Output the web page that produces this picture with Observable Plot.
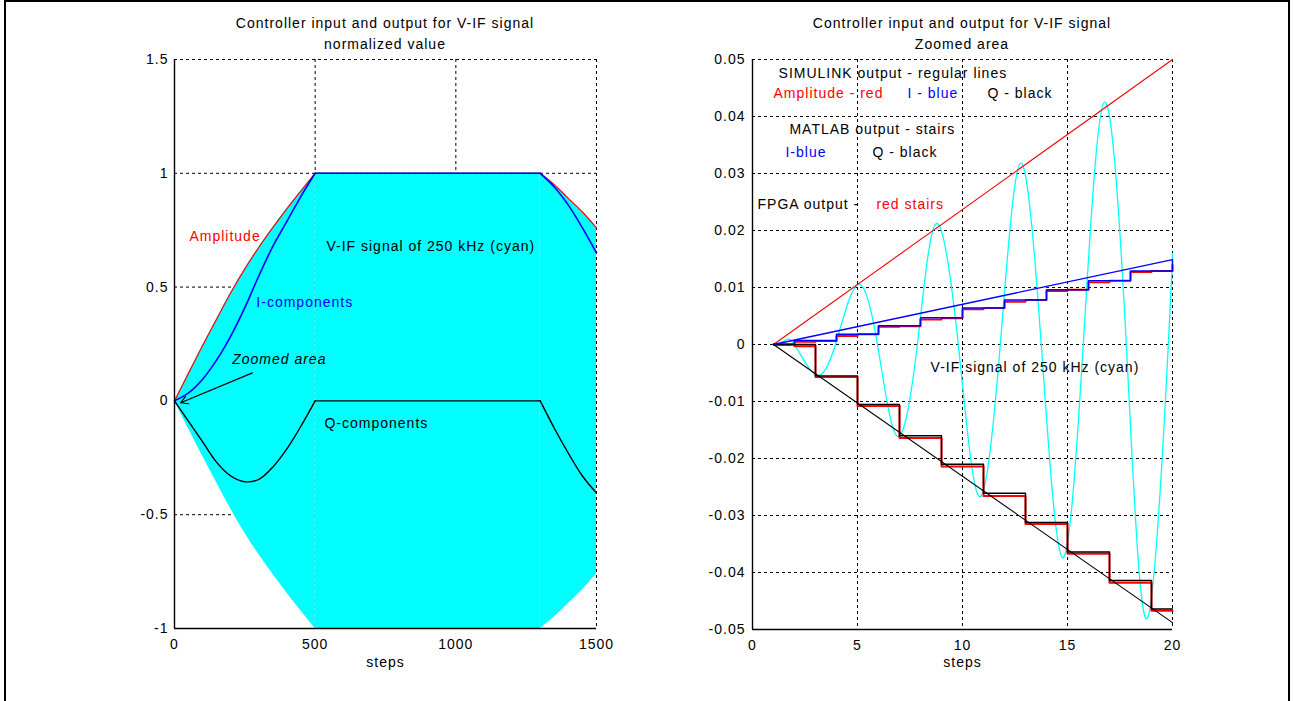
<!DOCTYPE html>
<html>
<head>
<meta charset="utf-8">
<script src="https://cdn.jsdelivr.net/npm/d3@7"></script>
<script src="https://cdn.jsdelivr.net/npm/@observablehq/plot@0.6"></script>
<style>
  html, body { margin: 0; padding: 0; background: #fff; }
  body { width: 1294px; height: 701px; position: relative; overflow: hidden;
         font-family: "Liberation Sans", Arial, sans-serif; }
  #frame { position: absolute; left: 4px; top: 0px; width: 1286px; height: 720px;
           border: 2px solid #000; box-sizing: border-box; }
  .title { position: absolute; width: 500px; text-align: center; font-size: 14px;
           letter-spacing: 1px; line-height: 21px; color: #000; }
  .chart { position: absolute; top: 0; }
</style>
</head>
<body>
<div id="frame"></div>
<div class="title" style="left:135px; top:13px;">Controller input and output for V-IF signal<br>normalized value</div>
<div class="title" style="left:712px; top:13px;">Controller input and output for V-IF signal<br>Zoomed area</div>
<div id="left" class="chart" style="left:0px;"></div>
<div id="right" class="chart" style="left:640px;"></div>
<script>
// ---------- Left panel: full run (normalized value) ----------
const leftSteps     = [0, 50, 100, 150, 200, 250, 300, 350, 400, 450, 500, 1300, 1350, 1400, 1450, 1500];
const leftAmplitude = [0, 0.122, 0.243, 0.36, 0.475, 0.58, 0.675, 0.762, 0.845, 0.923, 1.00, 1.00, 0.95, 0.89, 0.83, 0.76];
const leftI         = [0, 0.035, 0.095, 0.18, 0.285, 0.41, 0.55, 0.68, 0.79, 0.90, 1.00, 1.00, 0.94, 0.86, 0.76, 0.65];
const leftQ         = [0, -0.09, -0.18, -0.27, -0.33, -0.355, -0.345, -0.29, -0.21, -0.11, 0, 0, -0.12, -0.23, -0.33, -0.405];
const leftSegments  = [[0, 500], [500, 1300], [1300, 1500]];
const leftXTicks    = [0, 500, 1000, 1500];
const leftYTicks    = [-1, -0.5, 0, 0.5, 1, 1.5];

// ---------- Right panel: zoomed area (first 20 steps) ----------
const zoomXTicks    = [0, 5, 10, 15, 20];
const zoomYTicks    = [-0.05, -0.04, -0.03, -0.02, -0.01, 0, 0.01, 0.02, 0.03, 0.04, 0.05];
const simSteps      = [1, 20];
const simAmplitude  = [0, 0.05];
const simI          = [0, 0.0149];
const simQ          = [0, -0.0488];
const vifSteps      = [1, 1.5, 2, 3, 3.95, 5, 5.95, 6.9, 7.85, 8.75, 9.8, 10.8, 11.8, 12.76, 13.75, 14.76, 15.75, 16.76, 17.8, 18.8, 19.8, 20];
const vifValues     = [0, 0.0006, 0, -0.0053, 0, 0.0105, 0, -0.0161, 0, 0.0212, 0, -0.0267, 0, 0.0318, 0, -0.0374, 0, 0.0425, 0, -0.048, 0, 0.016];
const matlabISteps  = [1, 2, 4, 6, 8, 10, 12, 14, 16, 18, 20];
const matlabI       = [0, 0.0007, 0.0018, 0.0033, 0.0047, 0.0064, 0.0078, 0.0096, 0.0112, 0.0129, 0.0148];
const matlabQSteps  = [1, 3, 5, 7, 9, 11, 13, 15, 17, 19, 20];
const matlabQ       = [0, -0.0055, -0.0105, -0.016, -0.021, -0.0261, -0.0312, -0.0364, -0.0414, -0.0464, -0.0464];
const fpgaSteps     = [1, 2, 3, 4, 5, 6, 7, 8, 9, 10, 11, 12, 13, 14, 15, 16, 17, 18, 19, 20];
const fpgaI         = [0, 0.0005, 0.0006, 0.0015, 0.0018, 0.0031, 0.0032, 0.0044, 0.0046, 0.0062, 0.0064, 0.0075, 0.0078, 0.0094, 0.0096, 0.0109, 0.0112, 0.0127, 0.0129, 0.0140];
const fpgaQ         = [0, -0.0003, -0.0057, -0.0057, -0.0108, -0.0108, -0.0164, -0.0164, -0.0214, -0.0214, -0.0266, -0.0266, -0.0315, -0.0315, -0.0367, -0.0367, -0.0418, -0.0418, -0.0467, -0.0467];

// ---------- Annotations ----------
const leftNotes = [
  {text: "Amplitude", x: 53, y: 0.724, color: "#FF0000"},
  {text: "V-IF signal of 250 kHz (cyan)", x: 540, y: 0.68, color: "#000000"},
  {text: "I-components", x: 291, y: 0.432, color: "#0000FF"},
  {text: "Q-components", x: 533, y: -0.10, color: "#000000"}
];
const leftItalicNotes = [
  {text: "Zoomed area", x: 205, y: 0.18, color: "#000000"}
];
const leftArrow = [{x1: 277, y1: 0.123, x2: 22, y2: -0.008}];
const zoomNotes = [
  {text: "SIMULINK output - regular lines", x: 1.24, y: 0.0475, color: "#000000"},
  {text: "Amplitude - red", x: 1.0, y: 0.044, color: "#FF0000"},
  {text: "I - blue", x: 7.38, y: 0.044, color: "#0000FF"},
  {text: "Q - black", x: 11.19, y: 0.044, color: "#000000"},
  {text: "MATLAB output - stairs", x: 1.76, y: 0.0377, color: "#000000"},
  {text: "I-blue", x: 1.57, y: 0.0337, color: "#0000FF"},
  {text: "Q - black", x: 5.71, y: 0.0337, color: "#000000"},
  {text: "FPGA output -", x: 0.24, y: 0.0245, color: "#000000"},
  {text: "red stairs", x: 5.9, y: 0.0245, color: "#FF0000"},
  {text: "V-IF signal of 250 kHz (cyan)", x: 8.48, y: -0.004, color: "#000000"}
];

const FONT = "'Liberation Sans', Arial, sans-serif";
const baseStyle = {fontFamily: FONT, fontSize: "14px", letterSpacing: "1px", color: "#000",
                   background: "transparent", overflow: "visible"};
const fmt = d => String(d);
const gridOpts = {stroke: "#000", strokeOpacity: 1, strokeWidth: 1, strokeDasharray: "3,3"};

// build left rows per segment (sharp corners at 500 and 1300)
const leftRows = [];
leftSegments.forEach(([a, b], si) => {
  leftSteps.forEach((t, i) => {
    if (t >= a && t <= b) leftRows.push({seg: si, t, a: leftAmplitude[i], i: leftI[i], q: leftQ[i]});
  });
});

const leftPlot = Plot.plot({
  width: 620, height: 701,
  marginLeft: 174, marginRight: 24, marginTop: 59, marginBottom: 73,
  x: {domain: [0, 1500], label: null},
  y: {domain: [-1, 1.5], label: null},
  style: baseStyle,
  marks: [
    Plot.gridX(leftXTicks.filter(d => d > 0), gridOpts),
    Plot.gridY(leftYTicks.filter(d => d > -1), gridOpts),
    Plot.areaY(leftRows, {x: "t", y1: d => -d.a, y2: "a", z: "seg", fill: "#00FFFF", curve: "catmull-rom"}),
    Plot.line(leftRows, {x: "t", y: "a", z: "seg", stroke: "#FF0000", strokeWidth: 1.2, curve: "catmull-rom"}),
    Plot.line(leftRows, {x: "t", y: "i", z: "seg", stroke: "#0000FF", strokeWidth: 1.6, curve: "catmull-rom"}),
    Plot.line(leftRows, {x: "t", y: "q", z: "seg", stroke: "#000000", strokeWidth: 1.4, curve: "catmull-rom"}),
    Plot.ruleX([0], {stroke: "#000", strokeWidth: 1.4}),
    Plot.ruleY([-1], {stroke: "#000", strokeWidth: 1.4}),
    Plot.axisX(leftXTicks, {tickSize: 0, tickPadding: 11, tickFormat: fmt, label: null, fontSize: 14}),
    Plot.axisY(leftYTicks, {anchor: "left", tickSize: 0, tickPadding: 6, tickFormat: fmt, label: null, fontSize: 14}),
    Plot.text(["steps"], {text: d => d, frameAnchor: "bottom", dy: 38, fontSize: 14}),
    Plot.text(leftNotes, {x: "x", y: "y", text: "text", fill: "color", textAnchor: "start", fontSize: 14}),
    Plot.text(leftItalicNotes, {x: "x", y: "y", text: "text", fill: "color", textAnchor: "start", fontSize: 14, fontStyle: "italic"}),
    Plot.arrow(leftArrow, {x1: "x1", y1: "y1", x2: "x2", y2: "y2", stroke: "#000", strokeWidth: 1.2, headLength: 10})
  ]
});
document.getElementById("left").appendChild(leftPlot);

// right rows
const simRows  = simSteps.map((t, k) => ({t, a: simAmplitude[k], i: simI[k], q: simQ[k]}));
const vifRows  = vifSteps.map((t, k) => ({t, v: vifValues[k]}));
const mIRows   = matlabISteps.map((t, k) => ({t, v: matlabI[k]}));
const mQRows   = matlabQSteps.map((t, k) => ({t, v: matlabQ[k]}));
const fpgaRows = fpgaSteps.map((t, k) => ({t, i: fpgaI[k], q: fpgaQ[k]}));

const rightPlot = Plot.plot({
  width: 654, height: 701,
  marginLeft: 112, marginRight: 122, marginTop: 59, marginBottom: 72,
  x: {domain: [0, 20], label: null},
  y: {domain: [-0.05, 0.05], label: null},
  style: baseStyle,
  marks: [
    Plot.gridX(zoomXTicks.filter(d => d > 0), gridOpts),
    Plot.gridY(zoomYTicks.filter(d => d > -0.05), gridOpts),
    Plot.line(vifRows, {x: "t", y: "v", stroke: "#00FFFF", strokeWidth: 1.3, curve: "natural"}),
    Plot.line(simRows, {x: "t", y: "a", stroke: "#FF0000", strokeWidth: 1.1}),
    Plot.line(fpgaRows, {x: "t", y: "i", stroke: "#FF0000", strokeWidth: 2, curve: "step-after"}),
    Plot.line(fpgaRows, {x: "t", y: "q", stroke: "#FF0000", strokeWidth: 2, curve: "step-after"}),
    Plot.line(mIRows, {x: "t", y: "v", stroke: "#0000FF", strokeWidth: 1.4, curve: "step-after"}),
    Plot.line(mQRows, {x: "t", y: "v", stroke: "#000000", strokeWidth: 1.4, curve: "step-after"}),
    Plot.line(simRows, {x: "t", y: "i", stroke: "#0000FF", strokeWidth: 1.4}),
    Plot.line(simRows, {x: "t", y: "q", stroke: "#000000", strokeWidth: 1.1}),
    Plot.ruleX([0], {stroke: "#000", strokeWidth: 1.4}),
    Plot.ruleY([-0.05], {stroke: "#000", strokeWidth: 1.4}),
    Plot.axisX(zoomXTicks, {tickSize: 0, tickPadding: 11, tickFormat: fmt, label: null, fontSize: 14}),
    Plot.axisY(zoomYTicks, {anchor: "left", tickSize: 0, tickPadding: 7, tickFormat: fmt, label: null, fontSize: 14}),
    Plot.text(["steps"], {text: d => d, frameAnchor: "bottom", dy: 37, fontSize: 14}),
    Plot.text(zoomNotes, {x: "x", y: "y", text: "text", fill: "color", textAnchor: "start", fontSize: 14})
  ]
});
document.getElementById("right").appendChild(rightPlot);
</script>
</body>
</html>
